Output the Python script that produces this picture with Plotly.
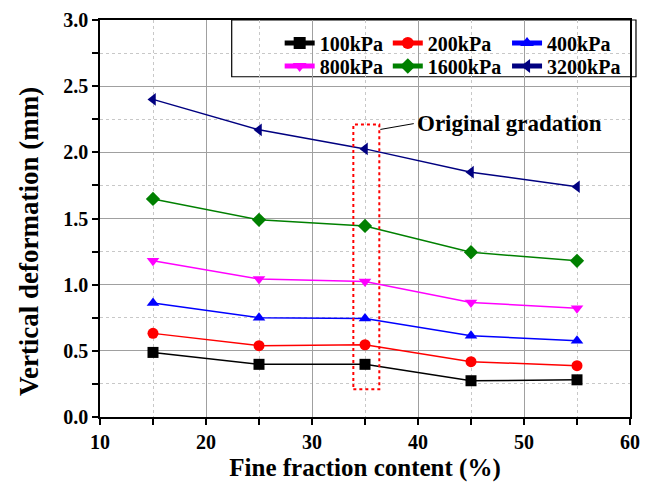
import plotly.graph_objects as go

fines = [15, 25, 35, 45, 55]
names = ["100kPa", "200kPa", "400kPa", "800kPa", "1600kPa", "3200kPa"]
d100 = [0.488, 0.398, 0.398, 0.274, 0.281]
d200 = [0.632, 0.539, 0.546, 0.418, 0.388]
d400 = [0.861, 0.750, 0.745, 0.614, 0.577]
d800 = [1.180, 1.043, 1.023, 0.866, 0.821]
d1600 = [1.648, 1.490, 1.444, 1.245, 1.180]
d3200 = [2.400, 2.170, 2.026, 1.850, 1.740]
series = [d100, d200, d400, d800, d1600, d3200]
x_ticks = [10, 20, 30, 40, 50, 60]
x_ticklabels = ["10", "20", "30", "40", "50", "60"]
y_ticks = [0, 0.5, 1.0, 1.5, 2.0, 2.5, 3.0]
y_ticklabels = ["0.0", "0.5", "1.0", "1.5", "2.0", "2.5", "3.0"]

colors = ["#000000", "#ff0000", "#0000ff", "#ff00ff", "#008000", "#000080"]
symbols = ["square", "circle", "triangle-up", "triangle-down", "diamond", "triangle-left"]
legend_ids = ["legend", "legend2", "legend3", "legend4", "legend5", "legend6"]
# legend placement (paper coords): column x, row y
leg_x = [0.339, 0.543, 0.768, 0.339, 0.543, 0.768]
leg_y = [0.942, 0.942, 0.942, 0.884, 0.884, 0.884]

FONT = "Liberation Serif"

fig = go.Figure()
for nm, ys, c, s, lg in zip(names, series, colors, symbols, legend_ids):
    fig.add_trace(go.Scatter(
        x=fines, y=ys, name="<b>" + nm + "</b>", mode="lines+markers",
        line=dict(color=c, width=1.5),
        marker=dict(symbol=s, size=11, color=c),
        legend=lg, showlegend=True,
    ))

legends = {}
for lg, lx, ly in zip(legend_ids, leg_x, leg_y):
    legends[lg] = dict(
        orientation="v", bgcolor="rgba(0,0,0,0)", borderwidth=0,
        font=dict(family=FONT, size=20, color="black"),
        yanchor="middle", y=ly, xanchor="left", x=lx, itemsizing="constant",
        visible=True,
    )

fig.update_layout(
    width=659, height=486,
    margin=dict(l=92, r=37, t=12, b=77, autoexpand=False),
    paper_bgcolor="white", plot_bgcolor="white",
    font=dict(family=FONT, color="black"),
    showlegend=True,
    **legends,
    xaxis=dict(
        range=[10, 60], tickvals=x_ticks, ticktext=["<b>%s</b>" % t for t in x_ticklabels],
        automargin=False,
        showline=True, linecolor="black", linewidth=1.5, mirror=True,
        ticks="outside", ticklen=6, tickwidth=1.5, tickcolor="black",
        showgrid=True, gridcolor="#a0a0a0", gridwidth=1.3,
        minor=dict(dtick=5, tick0=10, showgrid=True, gridcolor="#c8c8c8", griddash="dot",
                   gridwidth=1, ticks="outside", ticklen=6, tickcolor="black", tickwidth=1.5),
        tickfont=dict(family=FONT, size=20, color="black", weight=700),
        title=dict(text="<b>Fine fraction content (%)</b>",
                   font=dict(family=FONT, size=25, color="black"), standoff=7),
        zeroline=False,
    ),
    yaxis=dict(
        range=[0, 3], tickvals=y_ticks, ticktext=["<b>%s</b>" % t for t in y_ticklabels],
        automargin=False,
        showline=True, linecolor="black", linewidth=1.5, mirror=True,
        ticks="outside", ticklen=6, tickwidth=1.5, tickcolor="black",
        showgrid=True, gridcolor="#a0a0a0", gridwidth=1.3,
        minor=dict(dtick=0.25, tick0=0, showgrid=True, gridcolor="#c8c8c8", griddash="dot",
                   gridwidth=1, ticks="outside", ticklen=6, tickcolor="black", tickwidth=1.5),
        tickfont=dict(family=FONT, size=20, color="black", weight=700),
        zeroline=False,
    ),
)

# y axis title (placed slightly below centre, as in the original)
fig.add_annotation(x=-0.134, y=0.443, xref="paper", yref="paper",
                   text="<b>Vertical deformation (mm)</b>", textangle=-90,
                   showarrow=False, xanchor="center", yanchor="middle",
                   font=dict(family=FONT, size=27, color="black"))

# legend frame
fig.add_shape(type="rect", xref="paper", yref="paper",
              x0=0.2485, x1=1.0113, y0=0.857, y1=1.0,
              line=dict(color="black", width=1.2), fillcolor="white", layer="below")

# original gradation box
fig.add_shape(type="rect", xref="x", yref="y", x0=33.9, x1=36.35, y0=0.21, y1=2.21,
              line=dict(color="red", width=2, dash="dot"))
fig.add_shape(type="line", xref="x", yref="y", x0=36.45, y0=2.173, x1=39.6, y1=2.217,
              line=dict(color="black", width=1))
fig.add_annotation(x=39.75, y=2.215, xref="x", yref="y", text="<b>Original gradation</b>",
                   showarrow=False, xanchor="left", yanchor="middle",
                   font=dict(family=FONT, size=23, color="black"))

fig.write_html("out.html")
